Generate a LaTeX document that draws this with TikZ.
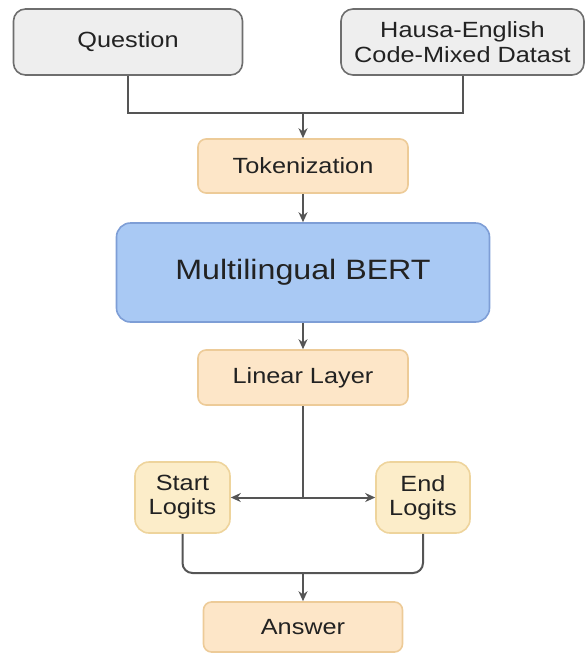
\documentclass[tikz,border=0pt]{standalone}
\usepackage{fontspec}
\setmainfont{Liberation Sans}
\usepackage{graphicx}
\usetikzlibrary{arrows.meta}
\definecolor{grayfill}{HTML}{EEEEEE}
\definecolor{grayline}{HTML}{6E6E6E}
\definecolor{orfill}{HTML}{FDE6C8}
\definecolor{orline}{HTML}{EDCB98}
\definecolor{lgfill}{HTML}{FCEDC9}
\definecolor{lgline}{HTML}{EED49C}
\definecolor{bluefill}{HTML}{A9C9F4}
\definecolor{blueline}{HTML}{7E9ED6}
\definecolor{txt}{HTML}{222222}
\definecolor{conn}{HTML}{555555}
\newcommand\hs[1]{\scalebox{1.15}[1]{#1}}
\tikzset{
  box/.style={rectangle, line width=1.6pt, text=txt, inner sep=0pt, align=center,
    font=\fontsize{22}{25}\selectfont},
  graybox/.style={box, draw=grayline, fill=grayfill, rounded corners=12pt},
  orbox/.style={box, draw=orline, fill=orfill, rounded corners=8pt},
  lgbox/.style={box, draw=lgline, fill=lgfill, rounded corners=14pt},
  bluebox/.style={box, draw=blueline, fill=bluefill, rounded corners=14pt,
    font=\fontsize{28}{32}\selectfont},
  conline/.style={draw=conn, line width=2pt},
  arr/.style={conline, -{Stealth[length=10pt,width=9pt]}},
}
\begin{document}
\begin{tikzpicture}[x=1pt,y=-1pt]
\useasboundingbox (0,0) rectangle (586,654);
\node[graybox, minimum width=229pt, minimum height=66pt] (q) at (128,42) {\hs{Question}};
\node[graybox, minimum width=243pt, minimum height=66pt] (h) at (462.5,42) {\hs{Hausa-English}\\\hs{Code-Mixed Datast}};
\node[orbox, minimum width=210pt, minimum height=54pt] (tok) at (303,166) {\hs{Tokenization}};
\node[bluebox, minimum width=373pt, minimum height=99pt] (bert) at (303,272.5) {\hs{Multilingual BERT}};
\node[orbox, minimum width=210pt, minimum height=55pt] (lin) at (303,377.5) {\hs{Linear Layer}};
\node[lgbox, minimum width=95pt, minimum height=71pt, font=\fontsize{22}{24}\selectfont] (st) at (182.5,497.5) {\hs{Start}\\\hs{Logits}};
\node[lgbox, minimum width=94pt, minimum height=71pt, font=\fontsize{22}{24}\selectfont] (en) at (423,497.5) {\hs{End}\\\hs{Logits}};
\node[orbox, minimum width=199pt, minimum height=50pt] (ans) at (303,627) {\hs{Answer}};
\coordinate (j) at (303,113);
\coordinate (s) at (303,497.5);
\coordinate (m) at (303,573);
\draw[conline] (q.south) |- (j) -| (h.south);
\draw[arr] (j) -- (tok.north);
\draw[arr] (tok.south) -- (bert.north);
\draw[arr] (bert.south) -- (lin.north);
\draw[conline] (lin.south) -- (s);
\draw[arr] (s) -- (st.east);
\draw[arr] (s) -- (en.west);
\draw[conline, rounded corners=10pt] (st.south) |- (m) -| (en.south);
\draw[arr] (m) -- (ans.north);
\end{tikzpicture}
\end{document}
